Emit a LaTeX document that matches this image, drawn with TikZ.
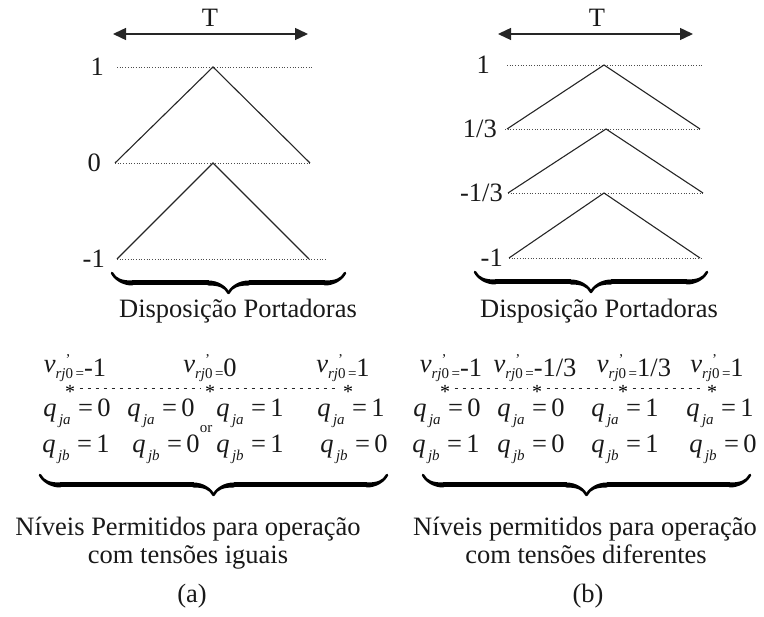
\documentclass[tikz,border=0pt]{standalone}
\usepackage{fontspec}
\setmainfont{Liberation Serif}
\usetikzlibrary{arrows.meta,decorations.pathreplacing,calligraphy}

\newcommand{\subfont}{\fontsize{15}{15}\selectfont}
\newcommand{\vlev}[1]{\textit{v}\rlap{\hspace{10pt}\raisebox{8pt}{\subfont'}}\raisebox{-0.22em}{\subfont\textit{rj}0\,=}\raisebox{-0.15em}{#1}}
\newcommand{\qsw}[2]{\textit{q}\raisebox{-0.3em}{\subfont\,\textit{j#1}}\;=\,#2}

\begin{document}
\begin{tikzpicture}[x=1pt, y=-1pt,
  lbl/.style={font=\fontsize{26.5}{29}\selectfont, inner sep=0pt, anchor=base, text=black!90},
  lvltxt/.style={lbl, anchor=east},
  lvl/.style={dotted, line width=0.7pt, black!70},
  carrier/.style={line width=1.1pt, black!85},
  period/.style={{Triangle[length=13pt,width=12pt]}-{Triangle[length=13pt,width=12pt]}, line width=1.4pt, black!85},
  bracebig/.style={decorate, decoration={calligraphic brace, amplitude=20pt}, line width=5pt, black!85},
  star/.style={font=\fontsize{20}{20}\selectfont, inner sep=4.5pt},
  levline/.style={dashed, dash pattern=on 3pt off 5pt, line width=1pt, black!85}
]
\useasboundingbox (0,0) rectangle (764,617);

% (a) carriers, equal voltages
\node[lbl] (Ta) at (210,27) {T};
\coordinate (ta1) at (113,34);
\coordinate (ta2) at (308,34);
\draw[period] (ta1) -- (ta2);

\node[lvltxt] (a1)  at (104,67)  {1};
\node[lvltxt] (a0)  at (101,163) {0};
\node[lvltxt] (am1) at (105,259) {-1};
\draw[lvl] (117,67)  -- (313,67);
\draw[lvl] (115,163) -- (310,163);
\draw[lvl] (117,259) -- (325,259);
\draw[carrier] (115,163) -- (213,67) -- (310,163);
\draw[carrier] (117,259) -- (213,163) -- (309,259);

\draw[bracebig] (345,273) -- (112,273);
\node[lbl] (dispa) at (238,318) {Disposição Portadoras};

% (b) carriers, different voltages
\node[lbl] (Tb) at (597,27) {T};
\coordinate (tb1) at (498,34);
\coordinate (tb2) at (693,34);
\draw[period] (tb1) -- (tb2);

\node[lvltxt] (b1)  at (490,65)  {1};
\node[lvltxt] (b2)  at (497,129) {1/3};
\node[lvltxt] (b3)  at (503,193) {-1/3};
\node[lvltxt] (b4)  at (503,258) {-1};
\draw[lvl] (507,65)  -- (703,65);
\draw[lvl] (505,129) -- (700,129);
\draw[lvl] (508,193) -- (703,193);
\draw[lvl] (509,258) -- (701,258);
\draw[carrier] (507,129) -- (604,65)  -- (700,129);
\draw[carrier] (508,193) -- (606,129) -- (703,193);
\draw[carrier] (509,258) -- (604,193) -- (700,258);

\draw[bracebig] (707,272) -- (475,272);
\node[lbl] (dispb) at (599,318) {Disposição Portadoras};

% allowed levels (a)
\node[lbl] (va1) at (75,373)  {\vlev{-1}};
\node[lbl] (va2) at (210,373) {\vlev{0}};
\node[lbl] (va3) at (343,373) {\vlev{1}};
\node[star] (sa1) at (70,389)  {\raisebox{-10pt}[0pt][0pt]{*}};
\node[star] (sa2) at (210,389) {\raisebox{-10pt}[0pt][0pt]{*}};
\node[star] (sa3) at (348,389) {\raisebox{-10pt}[0pt][0pt]{*}};
\draw[levline] (sa1) -- (sa2);
\draw[levline] (sa2) -- (sa3);

\node[lbl] (qa1) at (77,417)  {\qsw{a}{0}};
\node[lbl] (qa2) at (161,417) {\qsw{a}{0}};
\node[lbl] (qa3) at (250,417) {\qsw{a}{1}};
\node[lbl] (qa4) at (351,417) {\qsw{a}{1}};
\node[lbl, font=\subfont] (ora) at (206,433) {or};
\node[lbl] (qb1) at (76,453)  {\qsw{b}{1}};
\node[lbl] (qb2) at (166,453) {\qsw{b}{0}};
\node[lbl] (qb3) at (250,453) {\qsw{b}{1}};
\node[lbl] (qb4) at (354,453) {\qsw{b}{0}};

\draw[bracebig] (387,475) -- (40,475);
\node[lbl] (nva1) at (188,536) {Níveis Permitidos para operação};
\node[lbl] (nva2) at (188,564) {com tensões iguais};
\node[lbl] (capa) at (192,603) {(a)};

% allowed levels (b)
\node[lbl] (vb1) at (451,373) {\vlev{-1}};
\node[lbl] (vb2) at (535,373) {\vlev{-1/3}};
\node[lbl] (vb3) at (634,373) {\vlev{1/3}};
\node[lbl] (vb4) at (717,373) {\vlev{1}};
\node[star] (sb1) at (445,389) {\raisebox{-10pt}[0pt][0pt]{*}};
\node[star] (sb2) at (537,389) {\raisebox{-10pt}[0pt][0pt]{*}};
\node[star] (sb3) at (623,389) {\raisebox{-10pt}[0pt][0pt]{*}};
\node[star] (sb4) at (712,389) {\raisebox{-10pt}[0pt][0pt]{*}};
\draw[levline] (sb1) -- (sb2);
\draw[levline] (sb2) -- (sb3);
\draw[levline] (sb3) -- (sb4);

\node[lbl] (qc1) at (447,417) {\qsw{a}{0}};
\node[lbl] (qc2) at (531,417) {\qsw{a}{0}};
\node[lbl] (qc3) at (625,417) {\qsw{a}{1}};
\node[lbl] (qc4) at (720,417) {\qsw{a}{1}};
\node[lbl] (qd1) at (446,453) {\qsw{b}{1}};
\node[lbl] (qd2) at (531,453) {\qsw{b}{0}};
\node[lbl] (qd3) at (625,453) {\qsw{b}{1}};
\node[lbl] (qd4) at (723,453) {\qsw{b}{0}};

\draw[bracebig] (750,475) -- (423,475);
\node[lbl] (nvb1) at (585,536) {Níveis permitidos para operação};
\node[lbl] (nvb2) at (586,564) {com tensões diferentes};
\node[lbl] (capb) at (588,603) {(b)};
\end{tikzpicture}
\end{document}
